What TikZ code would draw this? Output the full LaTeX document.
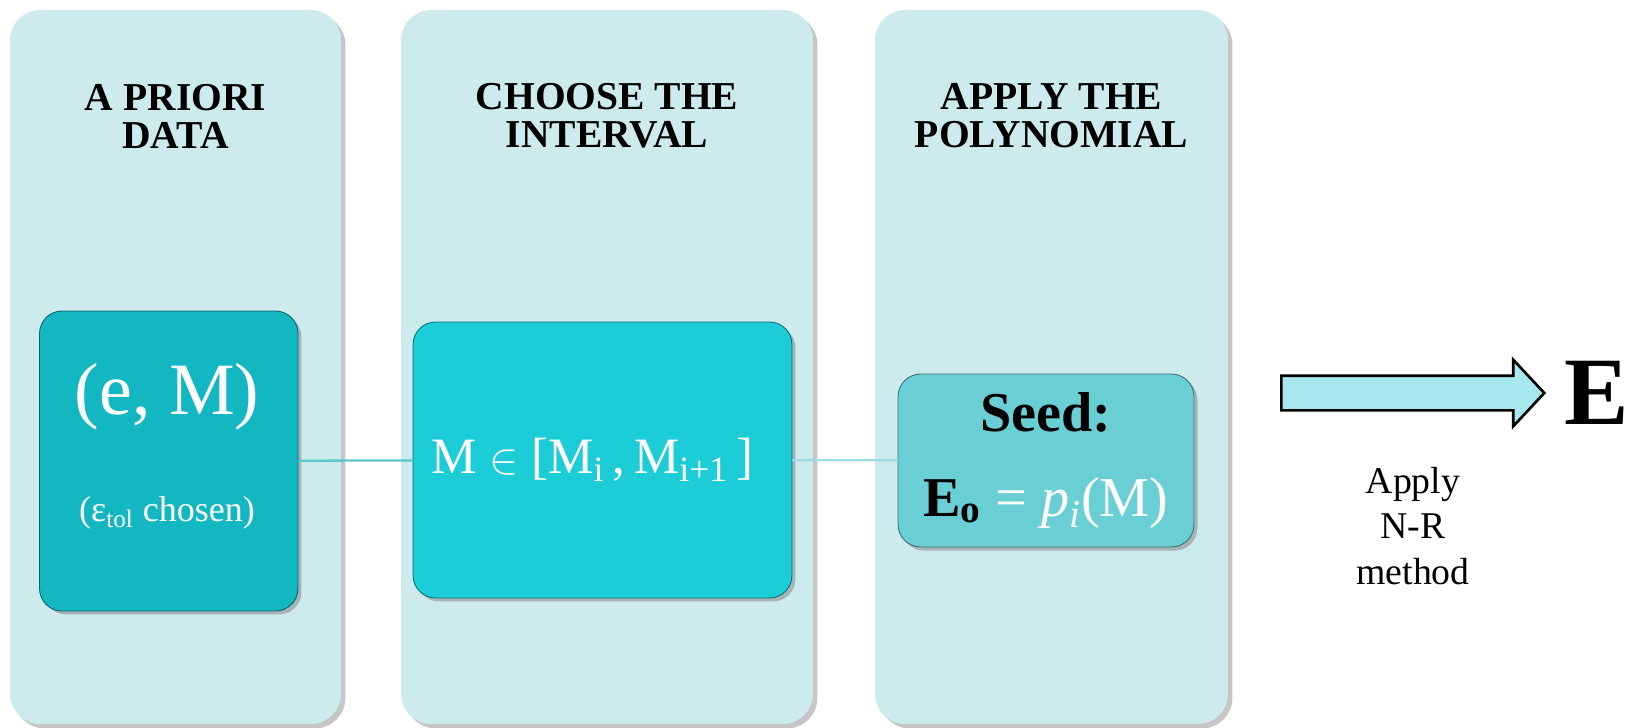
\documentclass[tikz,border=0pt]{standalone}
\usepackage{fontspec}
\setmainfont{Liberation Serif}
\usepackage{tikz}
\usetikzlibrary{shapes.arrows,shadows,positioning}

\definecolor{panelbg}{RGB}{205,234,237}
\definecolor{datafill}{RGB}{18,183,194}
\definecolor{rangefill}{RGB}{28,205,215}
\definecolor{seedfill}{RGB}{105,207,213}
\definecolor{linkcol}{RGB}{90,198,206}
\definecolor{arrowfill}{RGB}{166,232,237}

\begin{document}
\begin{tikzpicture}[
  x=0.02cm, y=-0.02cm,
  panel/.style={fill=panelbg,rounded corners=0.6cm,minimum height=14.28cm,inner sep=0pt,
    drop shadow={shadow xshift=2.5pt,shadow yshift=-2.5pt,opacity=0.45}},
  title/.style={align=center,inner sep=0pt,font=\bfseries\fontsize{22.5}{21.6}\selectfont},
  block/.style={draw=#1!55!black,line width=0.5pt,fill=#1,rounded corners=0.45cm,inner sep=0pt,text=white,
    drop shadow={shadow xshift=2pt,shadow yshift=-2pt,opacity=0.5}},
  link/.style={line width=1.3pt,draw=linkcol}
]
  \useasboundingbox (0,0) rectangle (1629,727);

  % three stages
  \node[panel,minimum width=6.62cm] (apriori) at (175.5,367) {};
  \node[panel,minimum width=8.24cm] (choose) at (607,367) {};
  \node[panel,minimum width=7.06cm] (apply) at (1051.5,367) {};

  \node[title] (aprioriT) at (175.5,116) {A PRIORI\\DATA};
  \node[title] (chooseT) at (607,116) {CHOOSE THE\\INTERVAL};
  \node[title] (applyT) at (1051.5,116) {APPLY THE\\POLYNOMIAL};

  \node[block=datafill,minimum width=5.17cm,minimum height=6cm] (data) at (168.75,461) {};
  \node[font=\fontsize{42}{42}\selectfont,text=white,inner sep=0pt] (pair) at (167,397) {(e, M)};
  \node[font=\fontsize{20.5}{20.5}\selectfont,text=white,inner sep=0pt] (tol) at (167,513) {(ε\textsubscript{tol} chosen)};

  \node[block=rangefill,minimum width=7.58cm,minimum height=5.52cm,font=\fontsize{29}{29}\selectfont] (range) at (602.5,460)
    {M $\in$ [M\textsubscript{i}\,,\,M\textsubscript{i+1}\,]\hspace*{0.4cm}};

  \node[block=seedfill,minimum width=5.92cm,minimum height=3.46cm,align=center,font=\fontsize{32}{48}\selectfont] (seed) at (1046,460.5)
    {\textcolor{black}{\textbf{Seed:}}\\\textcolor{black}{\textbf{E\textsubscript{o}}} = \textit{p\textsubscript{i}}(M)};

  \draw[link] (data) -- (range);
  \draw[link,draw=linkcol!60!white] (range) -- (seed);

  % Newton-Raphson step
  \node[single arrow,draw=black,line width=1.5pt,fill=arrowfill,single arrow head extend=0.32cm,
    single arrow tip angle=94,minimum height=5.26cm,inner xsep=0pt,inner ysep=0.32cm,anchor=tail] (toE) at (1280,393) {};
  \node[font=\bfseries\fontsize{55}{55}\selectfont,inner sep=0pt,right=0.36cm of toE.tip] (result) {E};
  \node[align=center,font=\fontsize{21.5}{26}\selectfont,inner sep=0pt] (nrlabel) at (1413,526) {Apply\\N-R\\method};
\end{tikzpicture}
\end{document}
